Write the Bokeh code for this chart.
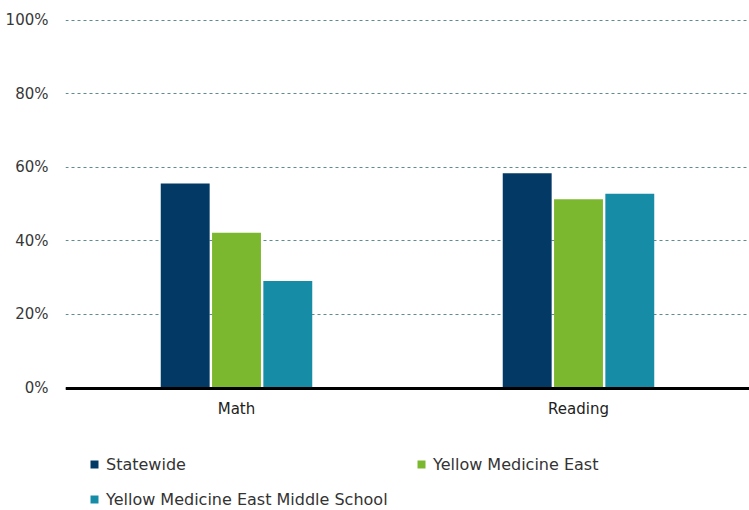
from bokeh.plotting import figure
from bokeh.models import ColumnDataSource, FactorRange, Range1d, FixedTicker, PrintfTickFormatter, Legend, LegendItem
from bokeh.transform import dodge
from bokeh.embed import file_html
from bokeh.resources import INLINE

subjects = ["Math", "Reading"]
statewide = [55.6, 58.4]
yme = [42.2, 51.3]
yme_ms = [29.1, 52.8]
series_names = ["Statewide", "Yellow Medicine East", "Yellow Medicine East Middle School"]
colors = ["#023a65", "#7cb82f", "#178ca7"]
y_ticks = [0, 20, 40, 60, 80, 100]

src = ColumnDataSource(dict(subject=subjects, s=statewide, y=yme, m=yme_ms))

p = figure(x_range=FactorRange(*subjects, range_padding=0), y_range=Range1d(-33.3, 101),
           frame_width=684, frame_height=494, output_backend="svg", toolbar_location=None,
           min_border_left=65, min_border_right=0, min_border_top=16, min_border_bottom=0)

fields = ["s", "y", "m"]
offsets = [-0.15, 0.0, 0.15]
renderers = []
for f, off, c in zip(fields, offsets, colors):
    r = p.vbar(x=dodge("subject", off, range=p.x_range), top=f, width=0.143, bottom=0,
               source=src, fill_color=c, line_color=None)
    renderers.append(r)

p.outline_line_color = None
p.background_fill_color = "white"
p.border_fill_color = "white"

p.xgrid.grid_line_color = None
p.ygrid.grid_line_color = "#5f8c91"
p.ygrid.grid_line_dash = "3 3"
p.ygrid.grid_line_width = 1
p.ygrid.ticker = FixedTicker(ticks=y_ticks)

p.yaxis.ticker = FixedTicker(ticks=y_ticks)
p.yaxis.formatter = PrintfTickFormatter(format="%d%%")
p.yaxis.axis_line_color = None
p.yaxis.major_tick_line_color = None
p.yaxis.minor_tick_line_color = None
p.yaxis.major_label_text_font = "DejaVu Sans"
p.yaxis.major_label_text_font_size = "15px"
p.yaxis.major_label_text_color = "#383838"
p.yaxis.major_label_standoff = 11

p.xaxis.fixed_location = 0
p.xaxis.axis_line_color = "black"
p.xaxis.axis_line_width = 3
p.xaxis.major_tick_line_color = None
p.xaxis.minor_tick_line_color = None
p.xaxis.major_label_text_font = "DejaVu Sans"
p.xaxis.major_label_text_font_size = "15px"
p.xaxis.major_label_text_color = "#222222"
p.xaxis.major_label_standoff = 6

order = [0, 2, 1]
items = [LegendItem(label=series_names[i], renderers=[renderers[i]]) for i in order]
legend = Legend(items=items, nrows=2, orientation="vertical", location=(24, 1),
                glyph_width=10, glyph_height=10, label_width=295, label_height=20,
                spacing=15, padding=0, margin=0, label_standoff=7,
                label_text_font="DejaVu Sans", label_text_font_size="16px",
                label_text_color="#333333", border_line_color=None,
                background_fill_alpha=0)
p.add_layout(legend, "center")

open("out.html", "w").write(file_html(p, INLINE))
